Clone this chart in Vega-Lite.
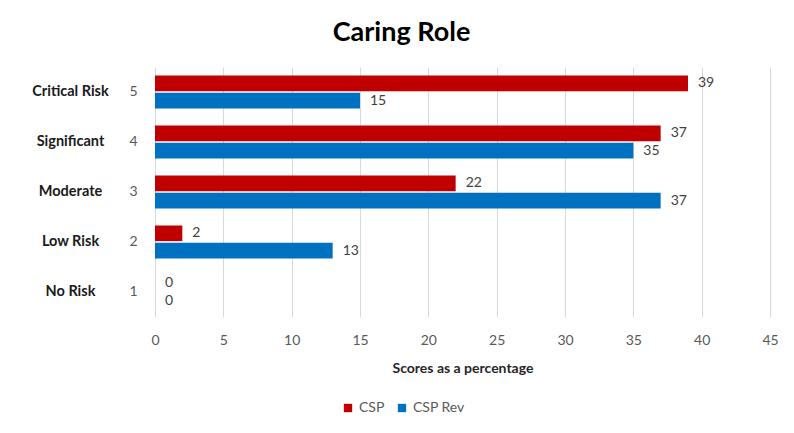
{
  "$schema": "https://vega.github.io/schema/vega-lite/v6.json",
  "width": 615,
  "height": 250,
  "autosize": {"type": "none"},
  "padding": {"left": 155, "top": 67, "right": 24, "bottom": 116},
  "background": "white",
  "title": {"text": "Caring Role", "fontSize": 27, "font": "Lato", "fontWeight": "bold", "color": "#000000", "anchor": "middle", "dx": -61, "offset": 20},
  "config": {"view": {"stroke": null}},
  "data": {"values": [
    {"level": 5, "name": "Critical Risk", "series": "CSP", "value": 39},
    {"level": 5, "name": "Critical Risk", "series": "CSP Rev", "value": 15},
    {"level": 4, "name": "Significant", "series": "CSP", "value": 37},
    {"level": 4, "name": "Significant", "series": "CSP Rev", "value": 35},
    {"level": 3, "name": "Moderate", "series": "CSP", "value": 22},
    {"level": 3, "name": "Moderate", "series": "CSP Rev", "value": 37},
    {"level": 2, "name": "Low Risk", "series": "CSP", "value": 2},
    {"level": 2, "name": "Low Risk", "series": "CSP Rev", "value": 13},
    {"level": 1, "name": "No Risk", "series": "CSP", "value": 0},
    {"level": 1, "name": "No Risk", "series": "CSP Rev", "value": 0}
  ]},
  "encoding": {
    "x": {"field": "value", "type": "quantitative", "scale": {"domain": [0, 45], "nice": false},
      "axis": {"values": [0, 5, 10, 15, 20, 25, 30, 35, 40, 45], "title": "Scores as a percentage", "domain": false, "ticks": false, "grid": true, "gridColor": "#d9d9d9", "labelFlush": false, "labelColor": "#595959", "labelFont": "Lato", "labelFontSize": 14, "labelPadding": 16, "titleFont": "Lato", "titleFontSize": 14, "titleFontWeight": "bold", "titleColor": "#262626", "titlePadding": 14}},
    "yOffset": {"field": "series", "type": "nominal", "scale": {"paddingInner": 0.1}}
  },
  "layer": [
    {
      "mark": {"type": "bar"},
      "encoding": {
        "y": {"field": "level", "type": "ordinal", "sort": "descending", "scale": {"paddingInner": 0.34, "paddingOuter": 0.17},
          "axis": {"title": null, "orient": "left", "ticks": false, "domain": false, "grid": false, "labelPadding": 18, "labelColor": "#595959", "labelFont": "Lato", "labelFontSize": 14}},
        "color": {"field": "series", "type": "nominal", "scale": {"domain": ["CSP", "CSP Rev"], "range": ["#C00000", "#0070C0"]},
          "legend": {"title": null, "orient": "none", "legendX": 186, "legendY": 334, "direction": "horizontal", "symbolType": "square", "symbolSize": 70, "symbolStrokeWidth": 0, "labelColor": "#595959", "labelFont": "Lato", "labelFontSize": 14, "columnPadding": 10}}
      }
    },
    {
      "mark": {"type": "text", "align": "left", "dx": 10, "color": "#404040", "font": "Lato", "fontSize": 14},
      "encoding": {
        "y": {"field": "name", "type": "nominal", "sort": ["Critical Risk", "Significant", "Moderate", "Low Risk", "No Risk"], "scale": {"paddingInner": 0.34, "paddingOuter": 0.17},
          "axis": {"title": null, "orient": "left", "ticks": false, "domain": false, "grid": false, "labelAlign": "center", "labelPadding": 85, "labelColor": "#1a1a1a", "labelFont": "Lato", "labelFontWeight": "bold", "labelFontSize": 14.5}},
        "text": {"field": "value", "type": "quantitative"}
      }
    }
  ],
  "resolve": {"scale": {"y": "independent"}, "axis": {"y": "independent"}}
}
